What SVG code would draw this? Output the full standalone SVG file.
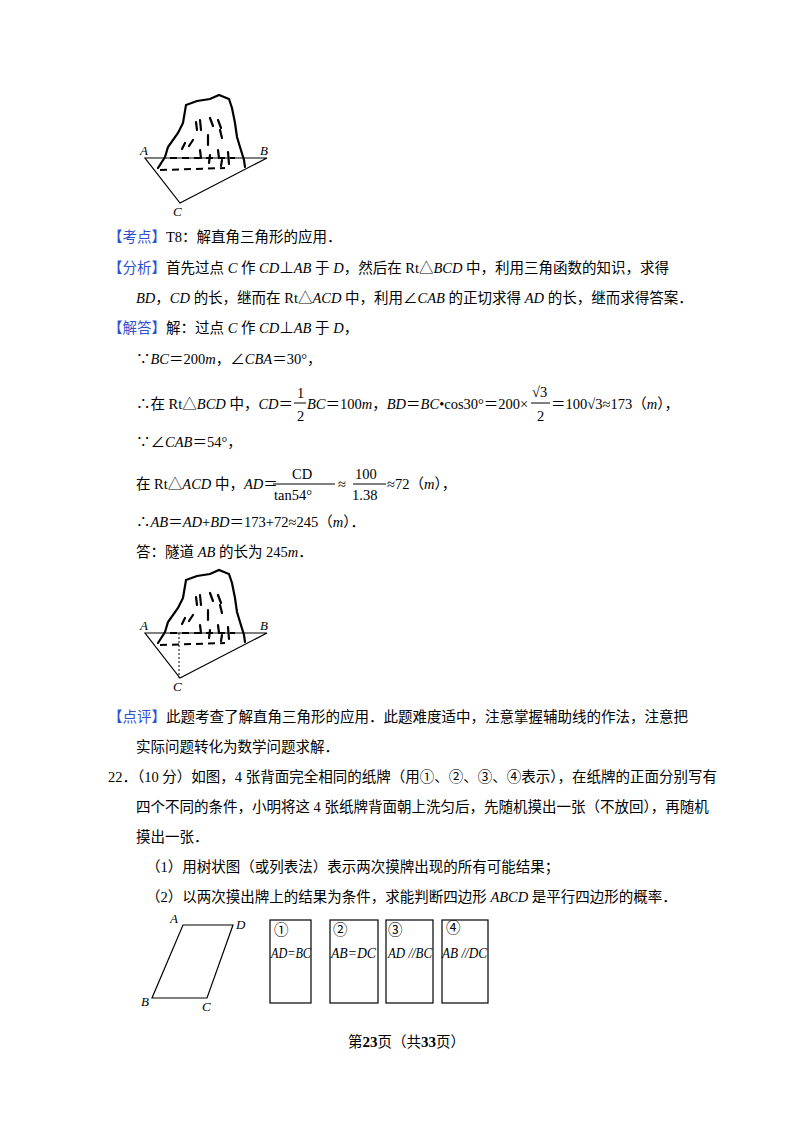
<svg xmlns="http://www.w3.org/2000/svg" xmlns:xlink="http://www.w3.org/1999/xlink" width="800" height="1132" viewBox="0 0 800 1132">
<style>
text{font-family:"Liberation Serif","Noto Sans CJK SC",serif;font-size:14.5px;fill:#000}
.b{fill:#2f4fd0}
.i{font-style:italic}
.s{font-size:13px}
.l{fill:none;stroke:#000;stroke-width:1.2}
.r{fill:none;stroke:#000;stroke-width:2.2;stroke-linecap:round}
.d{fill:none;stroke:#000;stroke-width:2;stroke-dasharray:7 5}
</style>
<rect width="800" height="1132" fill="#fff"/>
<defs>
<g id="fig">
<path class="l" d="M145,158 L267,158 L180,203 Z"/>
<path class="r" d="M158,168 L165,157 L168,147 L178,133 L183,123 L186,105 L197,101 L210,99 L219,95 L229,99 L232,108 L235,123 L237,137 L240,147 L244,160 L245,167"/>
<path class="r" d="M196,122 l1,8 M200,120 l1,10 M210,118 l3,8 M218,120 l3,8 M220,130 l2,8 M208,135 l0,10 M185,143 l-3,6 M193,140 l-4,6 M200,150 l1,8 M210,155 l-1,8 M218,150 l1,8 M222,160 l-1,6 M228,152 l1,12"/>
<path class="d" d="M160,170 L225,168 M170,158 L235,158"/>
<text x="140" y="155" class="i s">A</text>
<text x="260" y="155" class="i s">B</text>
<text x="173" y="216" class="i s">C</text>
</g>
</defs>
<g id="fig1"><use xlink:href="#fig"/></g>
<g id="fig2"><use xlink:href="#fig" transform="translate(0,475)"/>
<path d="M179,633 L179,678" stroke="#000" stroke-width="1" stroke-dasharray="2 2"/></g>

<text x="108" y="242"><tspan class="b">【考点】</tspan>T8：解直角三角形的应用．</text>
<text x="108" y="273"><tspan class="b">【分析】</tspan>首先过点 <tspan class="i">C</tspan> 作 <tspan class="i">CD</tspan>⊥<tspan class="i">AB</tspan> 于 <tspan class="i">D</tspan>，然后在 Rt△<tspan class="i">BCD</tspan> 中，利用三角函数的知识，求得</text>
<text x="136" y="303"><tspan class="i">BD</tspan>，<tspan class="i">CD</tspan> 的长，继而在 Rt△<tspan class="i">ACD</tspan> 中，利用∠<tspan class="i">CAB</tspan> 的正切求得 <tspan class="i">AD</tspan> 的长，继而求得答案．</text>
<text x="108" y="333"><tspan class="b">【解答】</tspan>解：过点 <tspan class="i">C</tspan> 作 <tspan class="i">CD</tspan>⊥<tspan class="i">AB</tspan> 于 <tspan class="i">D</tspan>，</text>
<text x="136" y="364">∵<tspan class="i">BC</tspan>＝200<tspan class="i">m</tspan>，∠<tspan class="i">CBA</tspan>＝30°，</text>

<text x="136" y="409">∴在 Rt△<tspan class="i">BCD</tspan> 中，<tspan class="i">CD</tspan>＝</text>
<text x="297" y="398" font-size="15">1</text>
<line x1="294" y1="403" x2="306" y2="403" stroke="#000"/>
<text x="297" y="421" font-size="15">2</text>
<text x="307" y="409"><tspan class="i">BC</tspan>＝100<tspan class="i">m</tspan>，<tspan class="i">BD</tspan>＝<tspan class="i">BC</tspan>•cos30°＝200×</text>
<text x="532" y="397" font-size="15">√3</text>
<line x1="531" y1="403" x2="550" y2="403" stroke="#000"/>
<text x="537" y="421" font-size="15">2</text>
<text x="551" y="409">＝100√3≈173（<tspan class="i">m</tspan>），</text>

<text x="136" y="447">∵∠<tspan class="i">CAB</tspan>＝54°，</text>

<text x="136" y="489">在 Rt△<tspan class="i">ACD</tspan> 中，<tspan class="i">AD</tspan>＝</text>
<text x="292" y="479" font-family="Liberation Mono" font-size="14">CD</text>
<line x1="273" y1="484" x2="335" y2="484" stroke="#000"/>
<text x="274" y="500" font-family="Liberation Mono" font-size="14">tan54°</text>
<text x="338" y="489">≈</text>
<text x="355" y="479" font-family="Liberation Mono" font-size="14">100</text>
<line x1="353" y1="484" x2="386" y2="484" stroke="#000"/>
<text x="352" y="500" font-family="Liberation Mono" font-size="14">1.38</text>
<text x="387" y="489">≈72（<tspan class="i">m</tspan>），</text>

<text x="136" y="527">∴<tspan class="i">AB</tspan>＝<tspan class="i">AD</tspan>+<tspan class="i">BD</tspan>＝173+72≈245（<tspan class="i">m</tspan>）．</text>
<text x="136" y="557">答：隧道 <tspan class="i">AB</tspan> 的长为 245<tspan class="i">m</tspan>．</text>

<text x="108" y="722"><tspan class="b">【点评】</tspan>此题考查了解直角三角形的应用．此题难度适中，注意掌握辅助线的作法，注意把</text>
<text x="136" y="752">实际问题转化为数学问题求解．</text>
<text x="108" y="782">22．（10 分）如图，4 张背面完全相同的纸牌（用①、②、③、④表示），在纸牌的正面分别写有</text>
<text x="136" y="812">四个不同的条件，小明将这 4 张纸牌背面朝上洗匀后，先随机摸出一张（不放回），再随机</text>
<text x="136" y="842">摸出一张．</text>
<text x="146" y="872">（1）用树状图（或列表法）表示两次摸牌出现的所有可能结果；</text>
<text x="146" y="902">（2）以两次摸出牌上的结果为条件，求能判断四边形 <tspan class="i">ABCD</tspan> 是平行四边形的概率．</text>

<g id="parallelogram">
<path class="l" d="M183,925 L233,925 L207,998 L152,998 Z"/>
<text x="170" y="923" class="i s">A</text>
<text x="236" y="929" class="i s">D</text>
<text x="141" y="1006" class="i s">B</text>
<text x="202" y="1011" class="i s">C</text>
</g>
<g id="cards" class="s">
<rect x="270" y="920" width="41" height="83" class="l"/>
<text x="274" y="935">①</text><text x="271" y="958" class="i" textLength="40" lengthAdjust="spacingAndGlyphs">AD=BC</text>
<rect x="330" y="920" width="48" height="83" class="l"/>
<text x="333" y="935">②</text><text x="331" y="958" class="i" textLength="45" lengthAdjust="spacingAndGlyphs">AB=DC</text>
<rect x="386" y="920" width="47" height="83" class="l"/>
<text x="388" y="935">③</text><text x="388" y="958" class="i" textLength="44" lengthAdjust="spacingAndGlyphs">AD //BC</text>
<rect x="442" y="920" width="46" height="83" class="l"/>
<text x="446" y="933">④</text><text x="442" y="958" class="i" textLength="45" lengthAdjust="spacingAndGlyphs">AB //DC</text>
</g>
<text x="348" y="1047" font-size="13">第<tspan font-weight="bold" font-size="15">23</tspan>页（共<tspan font-weight="bold" font-size="15">33</tspan>页）</text>
</svg>
